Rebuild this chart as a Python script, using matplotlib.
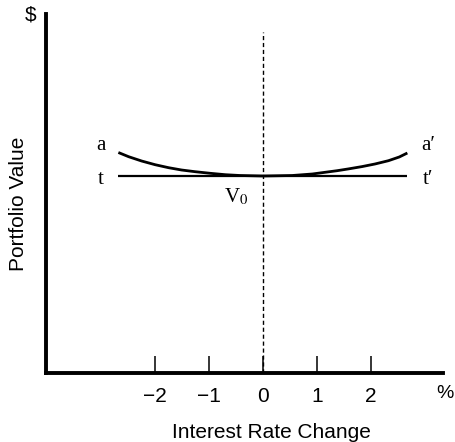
import numpy as np
import matplotlib
matplotlib.use("Agg")
import matplotlib.pyplot as plt

plt.rcParams['font.family'] = ['Liberation Sans', 'DejaVu Sans']
plt.rcParams['mathtext.fontset'] = 'stix'

# data: interest rate change (%) vs portfolio value (arbitrary units)
rate = [-2.68, -2.49, -2.25, -2.0, -1.75, -1.51, -1.26, -0.98, -0.70, -0.43, 0.0,
        0.54, 0.91, 1.37, 1.58, 1.83, 2.07, 2.32, 2.52, 2.67]
curve = [220.5, 216.3, 212.0, 208.3, 205.3, 203.0, 201.3, 199.7, 198.3, 197.5, 197.0,
         197.5, 199.0, 202.3, 204.1, 206.4, 209.0, 212.3, 216.0, 220.0]
tangent_x = [-2.68, 2.67]
tangent_y = [197.0, 197.0]
ticks = [-2, -1, 0, 1, 2]
tick_labels = ['\u22122', '\u22121', '0', '1', '2']

fig = plt.figure(figsize=(4.56, 4.42), dpi=100)
ax = fig.add_axes([46 / 456, 69 / 442, 397 / 456, 359 / 442])

# convex price curve a-a' and tangent t-t'
ax.plot(rate, curve, color='black', lw=2.0, solid_capstyle='butt', solid_joinstyle='round')
ax.plot(tangent_x, tangent_y, color='black', lw=1.6, solid_capstyle='butt')
ax.plot([0, 0], [0, 341], color='black', lw=1.0, ls=(0, (3, 2)))

ax.set_xlim(-4.02, 3.33)
ax.set_ylim(0, 359)
for s in ['top', 'right']:
    ax.spines[s].set_visible(False)
for s in ['left', 'bottom']:
    ax.spines[s].set_linewidth(2.8)

ax.set_xticks(ticks)
ax.set_xticklabels(tick_labels, fontsize=15)
ax.tick_params(axis='x', direction='in', length=12, width=1.1, pad=10)
ax.set_yticks([])

serif = ['Liberation Serif', 'DejaVu Serif']
ax.text(-3.0, 227, 'a', family=serif, fontsize=15, ha='center', va='center')
ax.text(-3.0, 193, 't', family=serif, fontsize=15, ha='center', va='center')
ax.text(3.06, 227, 'a\u2032', family=serif, fontsize=15, ha='center', va='center')
ax.text(3.06, 193, 't\u2032', family=serif, fontsize=15, ha='center', va='center')
ax.text(-0.5, 176, 'V$_0$', family=serif, fontsize=15, ha='center', va='center')

ax.text(-4.31, 358, '$', fontsize=15, ha='center', va='center', clip_on=False)
ax.text(3.53, -20, '%', fontsize=14, ha='right', va='center', clip_on=False)

ax.set_xlabel('Interest Rate Change', fontsize=15, va='baseline')
ax.xaxis.set_label_coords(0.567, -0.18)
ax.set_ylabel('Portfolio Value', fontsize=15, va='center')
ax.yaxis.set_label_coords(-0.07, 0.472)

plt.savefig('out.png', dpi=100)
